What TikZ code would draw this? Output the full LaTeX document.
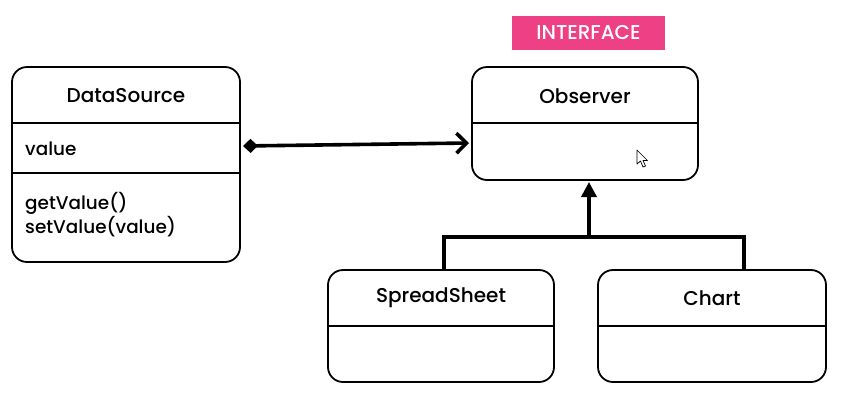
\documentclass[tikz,border=0pt]{standalone}
\usepackage{fontspec}
\setmainfont{Poppins}
\newfontfamily\popmed{Poppins Medium}
\usetikzlibrary{arrows.meta}
\definecolor{tagpink}{RGB}{238,64,132}
\tikzset{
  x=1pt, y=-1pt,
  classbox/.style={draw=black, line width=1.8pt, rounded corners=15pt, inner sep=0pt},
  divider/.style={draw=black, line width=1.5pt},
  title/.style={font=\popmed\fontsize{20}{23}\selectfont, inner sep=0pt},
  member/.style={font=\popmed\fontsize{18.4}{24}\selectfont, inner sep=0pt, anchor=west, align=left},
  link/.style={line width=3.6pt},
}
\begin{document}
\begin{tikzpicture}
\useasboundingbox (0,0) rectangle (847,413);

% interface tag
\node[fill=tagpink, minimum width=153pt, minimum height=34pt, inner sep=0pt,
      text=white, font=\popmed\fontsize{20}{23}\selectfont] (tag) at (588.5,33) {INTERFACE};

% DataSource class
\draw[classbox] (12,67) rectangle (240,262);
\node[minimum width=228pt, minimum height=195pt, inner sep=0pt] (ds) at (126,164.5) {};
\draw[divider] (12,123) -- (240,123);
\draw[divider] (12,173) -- (240,173);
\node[title] (dsname) at (126,96) {DataSource};
\node[member] (dsattr) at (25,149) {value};
\node[member] (dsops) at (25,215) {getValue()\\setValue(value)};

% Observer interface
\draw[classbox] (472,67) rectangle (698,180);
\node[minimum width=226pt, minimum height=113pt, inner sep=0pt] (obs) at (585,123.5) {};
\draw[divider] (472,123) -- (698,123);
\node[title] (obsname) at (585,96) {Observer};

% SpreadSheet class
\draw[classbox] (328,270) rectangle (554,382);
\node[minimum width=226pt, minimum height=112pt, inner sep=0pt] (ss) at (441,326) {};
\draw[divider] (328,326) -- (554,326);
\node[title] (ssname) at (441,298) {SpreadSheet};

% Chart class
\draw[classbox] (598,270) rectangle (826,382);
\node[minimum width=228pt, minimum height=112pt, inner sep=0pt] (ch) at (712,326) {};
\draw[divider] (598,326) -- (826,326);
\node[title] (chname) at (712,298) {Chart};

% composition: DataSource -> Observer
\coordinate (compA) at (243,146);
\coordinate (compB) at (469,143);
\draw[link, {Diamond[length=15pt,width=14pt]}-{Straight Barb[length=10pt,width=20pt,line width=3.6pt]}] (compA) -- (compB);

% realisation tree
\coordinate (fork) at (589,237);
\coordinate (obsTip) at (589,182);
\coordinate (ssTop) at (444,270);
\coordinate (chTop) at (744,270);
\draw[link, -{Triangle[length=15pt,width=15pt]}] (fork) -- (obsTip);
\draw[link, line join=miter] (ssTop) -- (444,237) -- (744,237) -- (chTop);

% mouse pointer
\draw[line width=0.7pt, fill=white, line join=round]
  (637,150) -- (637,164) -- (640.5,161) -- (643,167) -- (645.5,166) -- (643,160.5) -- (647.5,160.5) -- cycle;
\end{tikzpicture}
\end{document}
